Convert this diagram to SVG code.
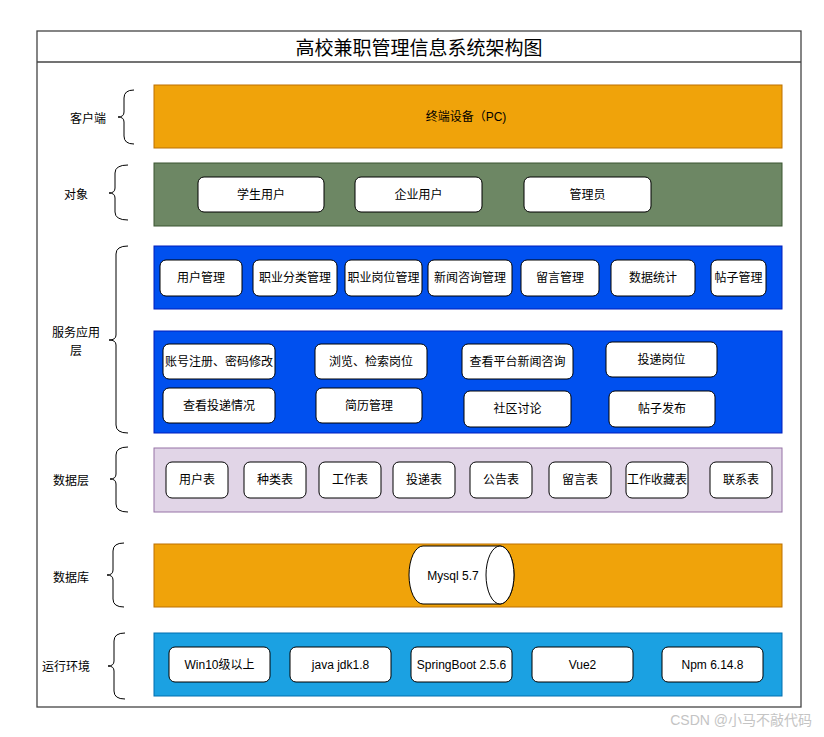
<svg xmlns="http://www.w3.org/2000/svg" width="824" height="737" viewBox="0 0 824 737">
<style>
text{font-family:"Liberation Sans","Noto Sans CJK SC",sans-serif;font-size:12px;fill:#000;text-anchor:middle;dominant-baseline:central}
.box{fill:#fff;stroke:#000;stroke-width:1}
.brace{fill:none;stroke:#000;stroke-width:1}
.orange{fill:#F0A30A;stroke:#BD7000}
.green{fill:#6D8764;stroke:#3A5431}
.blue{fill:#0050EF;stroke:#001DBC}
.purple{fill:#E1D5E7;stroke:#9673A6}
.sky{fill:#1BA1E2;stroke:#006EAF}
.lbl{font-family:"Noto Sans CJK SC",sans-serif}
</style>
<rect width="824" height="737" fill="#fff"/>
<g id="frame">
<rect x="37" y="31" width="764" height="676" fill="#fff" stroke="#444" stroke-width="1.3"/>
<line x1="37" y1="62" x2="801" y2="62" stroke="#444" stroke-width="1.3"/>
<text x="419" y="46" style="font-size:19px;font-family:'Noto Sans CJK SC',sans-serif">高校兼职管理信息系统架构图</text>
</g>
<g id="labels">
<text class="lbl" x="88" y="117">客户端</text>
<text class="lbl" x="76" y="193">对象</text>
<text class="lbl" x="76" y="331">服务应用</text>
<text class="lbl" x="76" y="349">层</text>
<text class="lbl" x="71" y="479">数据层</text>
<text class="lbl" x="71" y="576">数据库</text>
<text class="lbl" x="66" y="665">运行环境</text>
</g>
<g id="braces">
<path class="brace" d="M134,90 Q124,90 124,98 L124,112 Q124,117 118,117 Q124,117 124,122 L124,136 Q124,144 134,144"/>
<path class="brace" d="M128,165 Q115,165 115,173 L115,188 Q115,193 109,193 Q115,193 115,198 L115,212 Q115,220 128,220"/>
<path class="brace" d="M128,246 Q116,246 116,254 L116,335 Q116,340 109,340 Q116,340 116,345 L116,425 Q116,433 128,433"/>
<path class="brace" d="M128,447 Q116,447 116,455 L116,474 Q116,479 110,479 Q116,479 116,484 L116,504 Q116,512 128,512"/>
<path class="brace" d="M124,543 Q113,543 113,551 L113,570 Q113,575 107,575 Q113,575 113,580 L113,599 Q113,607 124,607"/>
<path class="brace" d="M125,633 Q114,633 114,641 L114,661 Q114,666 108,666 Q114,666 114,671 L114,691 Q114,699 125,699"/>
</g>
<g id="client">
<rect class="orange" x="154" y="85" width="628" height="63"/>
<text x="466" y="117">终端设备（PC)</text>
</g>
<g id="objects">
<rect class="green" x="154" y="163" width="628" height="63"/>
<g id="obj-student"><rect class="box" x="198" y="177" width="126" height="35" rx="6"/><text x="261" y="194.5">学生用户</text></g>
<g id="obj-company"><rect class="box" x="355" y="177" width="127" height="35" rx="6"/><text x="418.5" y="194.5">企业用户</text></g>
<g id="obj-admin"><rect class="box" x="524" y="177" width="127" height="35" rx="6"/><text x="587.5" y="194.5">管理员</text></g>
</g>
<g id="service-admin">
<rect class="blue" x="154" y="246" width="628" height="63"/>
<g id="s1"><rect class="box" x="160" y="260" width="82" height="36" rx="6"/><text x="201" y="278">用户管理</text></g>
<g id="s2"><rect class="box" x="253" y="260" width="84" height="36" rx="6"/><text x="295" y="278">职业分类管理</text></g>
<g id="s3"><rect class="box" x="345" y="260" width="77" height="36" rx="6"/><text x="383.5" y="278">职业岗位管理</text></g>
<g id="s4"><rect class="box" x="428" y="260" width="84" height="36" rx="6"/><text x="470" y="278">新闻咨询管理</text></g>
<g id="s5"><rect class="box" x="521" y="260" width="78" height="36" rx="6"/><text x="560" y="278">留言管理</text></g>
<g id="s6"><rect class="box" x="611" y="260" width="84" height="36" rx="6"/><text x="653" y="278">数据统计</text></g>
<g id="s7"><rect class="box" x="711" y="260" width="55" height="36" rx="6"/><text x="738.5" y="278">帖子管理</text></g>
</g>
<g id="service-user">
<rect class="blue" x="154" y="331" width="628" height="102"/>
<g id="u1"><rect class="box" x="163" y="344" width="112" height="35" rx="6"/><text x="219" y="361.5">账号注册、密码修改</text></g>
<g id="u2"><rect class="box" x="315" y="344" width="112" height="35" rx="6"/><text x="371" y="361.5">浏览、检索岗位</text></g>
<g id="u3"><rect class="box" x="163" y="388" width="112" height="35" rx="6"/><text x="219" y="405.5">查看投递情况</text></g>
<g id="u4"><rect class="box" x="316" y="388" width="106" height="35" rx="6"/><text x="369" y="405.5">简历管理</text></g>
<g id="u5"><rect class="box" x="462" y="344" width="111" height="35" rx="6"/><text x="517.5" y="361.5">查看平台新闻咨询</text></g>
<g id="u6"><rect class="box" x="606" y="342" width="111" height="35" rx="6"/><text x="661.5" y="359.5">投递岗位</text></g>
<g id="u7"><rect class="box" x="464" y="391" width="107" height="36" rx="6"/><text x="517.5" y="409">社区讨论</text></g>
<g id="u8"><rect class="box" x="609" y="391" width="106" height="36" rx="6"/><text x="662" y="409">帖子发布</text></g>
</g>
<g id="data-layer">
<rect class="purple" x="154" y="448" width="628" height="64"/>
<g id="t1"><rect class="box" x="166" y="462" width="62" height="36" rx="6"/><text x="197" y="480">用户表</text></g>
<g id="t2"><rect class="box" x="244" y="462" width="62" height="36" rx="6"/><text x="275" y="480">种类表</text></g>
<g id="t3"><rect class="box" x="319" y="462" width="62" height="36" rx="6"/><text x="350" y="480">工作表</text></g>
<g id="t4"><rect class="box" x="393" y="462" width="62" height="36" rx="6"/><text x="424" y="480">投递表</text></g>
<g id="t5"><rect class="box" x="470" y="462" width="62" height="36" rx="6"/><text x="501" y="480">公告表</text></g>
<g id="t6"><rect class="box" x="549" y="462" width="62" height="36" rx="6"/><text x="580" y="480">留言表</text></g>
<g id="t7"><rect class="box" x="626" y="462" width="62" height="36" rx="6"/><text x="657" y="480">工作收藏表</text></g>
<g id="t8"><rect class="box" x="710" y="462" width="62" height="36" rx="6"/><text x="741" y="480">联系表</text></g>
</g>
<g id="database">
<rect class="orange" x="154" y="544" width="628" height="63"/>
<g id="mysql">
<path class="box" d="M423,546 L500,546 A14,29 0 0 1 500,604 L423,604 A14,29 0 0 1 423,546 Z"/>
<ellipse class="box" cx="500" cy="575" rx="14" ry="29"/>
<text x="453" y="576">Mysql 5.7</text>
</g>
</g>
<g id="runtime">
<rect class="sky" x="154" y="633" width="628" height="63"/>
<g id="r1"><rect class="box" x="169" y="647" width="101" height="35" rx="6"/><text x="219.5" y="664.5">Win10级以上</text></g>
<g id="r2"><rect class="box" x="290" y="647" width="101" height="35" rx="6"/><text x="340.5" y="664.5">java jdk1.8</text></g>
<g id="r3"><rect class="box" x="411" y="647" width="101" height="35" rx="6"/><text x="461.5" y="664.5">SpringBoot 2.5.6</text></g>
<g id="r4"><rect class="box" x="532" y="647" width="101" height="35" rx="6"/><text x="582.5" y="664.5">Vue2</text></g>
<g id="r5"><rect class="box" x="662" y="647" width="101" height="35" rx="6"/><text x="712.5" y="664.5">Npm 6.14.8</text></g>
</g>
<g id="connectors"></g>
<text x="812" y="720" style="text-anchor:end;font-size:14px;fill:#c4c4c4">CSDN @小马不敲代码</text>
</svg>
